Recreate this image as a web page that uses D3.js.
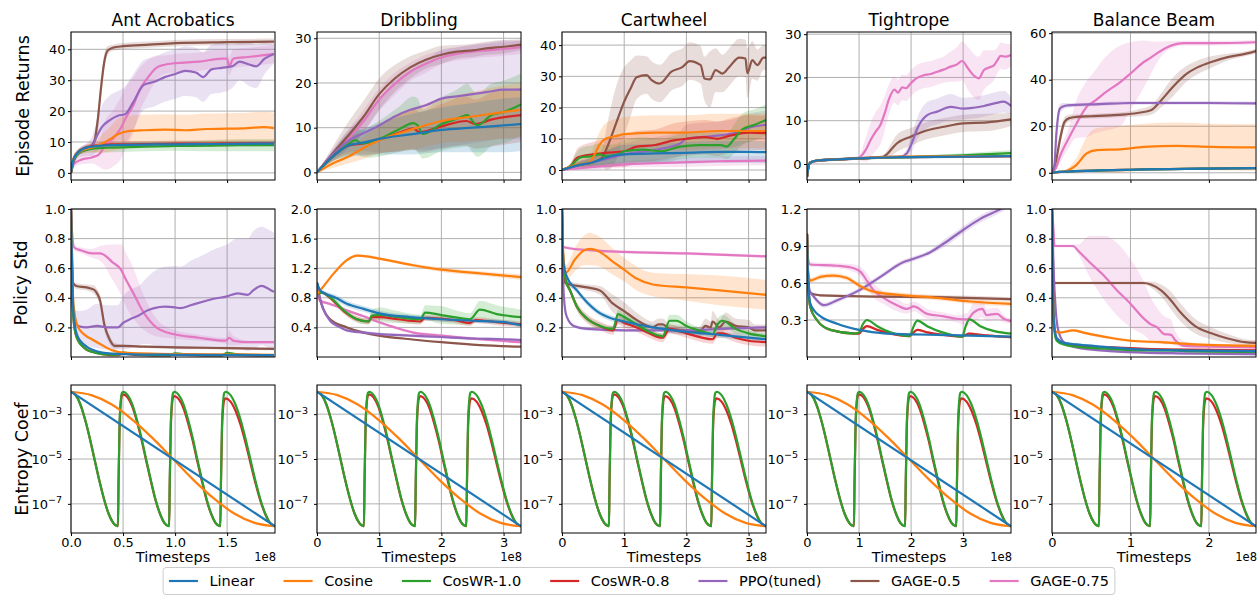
<!DOCTYPE html>
<meta charset="utf-8">
<script src="https://d3js.org/d3.v7.min.js"></script>
<style>
body { margin: 0; background: #fff; }
text { font-family: "DejaVu Sans", sans-serif; fill: #000; }
</style>
<body>
<div id="canvas"></div>
<script>

var tasks = ["Ant Acrobatics", "Dribbling", "Cartwheel", "Tightrope", "Balance Beam"];
var methods = ["Linear", "Cosine", "CosWR-1.0", "CosWR-0.8", "PPO(tuned)", "GAGE-0.5", "GAGE-0.75"];
var colors = ["#1f77b4", "#ff7f0e", "#2ca02c", "#d62728", "#9467bd", "#8c564b", "#e377c2"];
var rowLabels = ["Episode Returns", "Policy Std", "Entropy Coef"];

// timesteps axis (units of 1e8)
var xMax = [1.96, 3.28, 3.28, 3.92, 2.6];
var xTicks = [[0, 0.5, 1, 1.5], [0, 1, 2, 3], [0, 1, 2, 3], [0, 1, 2, 3], [0, 1, 2]];
var xTickLabels = [["0.0", "0.5", "1.0", "1.5"], ["0", "1", "2", "3"], ["0", "1", "2", "3"], ["0", "1", "2", "3"], ["0", "1", "2"]];

var retDomain = [[-2.3, 45.6], [-1.7, 31.4], [-3.2, 44.2], [-3.7, 30.5], [-3.1, 60.5]];
var retTicks = [[0, 10, 20, 30, 40], [0, 10, 20, 30], [0, 10, 20, 30, 40], [0, 10, 20, 30], [0, 20, 40, 60]];
var stdDomain = [[0, 1], [0, 2], [0, 1], [0, 1.2], [0, 1]];
var stdTicks = [[0.2, 0.4, 0.6, 0.8, 1.0], [0.4, 0.8, 1.2, 1.6, 2.0], [0.2, 0.4, 0.6, 0.8, 1.0], [0.3, 0.6, 0.9, 1.2], [0.2, 0.4, 0.6, 0.8, 1.0]];
var entDomainExp = [-8.3, -1.7];
var entTickExp = [-3, -5, -7];

// points: [timesteps (1e8), mean, spread] or [t, mean, spreadDown, spreadUp]
var retAnt = {
  "Linear": [[0,0,0],[0.02,4,1],[0.05,6,1],[0.1,7.5,0.8],[0.2,8.5,0.8],[0.4,9,0.8],[0.8,9.2,0.8],[1.2,9.3,0.8],[1.6,9.4,0.8],[1.95,9.5,0.8]],
  "Cosine": [[0,0,0],[0.02,4,1],[0.05,6,1],[0.1,7.2,1],[0.2,8.2,1.5],[0.3,9.5,3],[0.38,11,4],[0.45,12.5,5],[0.55,13.5,5],[0.7,13.8,5],[0.9,14,5],[1.1,13.8,5],[1.3,14.2,5],[1.5,14.3,5],[1.7,14.5,5],[1.85,14.8,5],[1.95,14.5,5]],
  "CosWR-1.0": [[0,0,0],[0.02,3.5,1],[0.05,5.5,1],[0.1,7,1],[0.2,7.8,1.2],[0.4,8.2,1.5],[0.7,8.5,1.5],[1.0,8.7,1.5],[1.3,8.8,1.8],[1.6,9,2],[1.95,9,2]],
  "CosWR-0.8": [[0,0,0],[0.02,4,1],[0.05,6,1],[0.1,7.5,1],[0.2,8.7,1],[0.4,9.2,1],[0.7,9.3,1],[1.0,9.5,1],[1.3,9.5,1],[1.6,9.6,1],[1.95,9.6,1]],
  "PPO(tuned)": [[0,0,0],[0.03,4,1],[0.08,6.5,1.5],[0.15,7.5,2],[0.2,8.5,3],[0.25,12,5],[0.3,15,7],[0.37,17,8],[0.45,18.5,8],[0.52,19,9],[0.6,23,9],[0.7,28.5,8],[0.8,29.5,8],[0.9,31,8],[1.0,32,8],[1.1,33,8],[1.2,32.5,8],[1.27,31,8],[1.35,33.5,8],[1.45,34,8],[1.55,34.5,7],[1.62,36,6],[1.72,35,7],[1.78,34.5,7],[1.86,37,5],[1.95,38.5,3]],
  "GAGE-0.5": [[0,0,0],[0.03,5,1],[0.1,7,1],[0.2,8.8,1],[0.23,11,2],[0.26,18,3],[0.29,28,3],[0.32,36,2.5],[0.35,39.5,1.5],[0.4,40.5,1],[0.5,41,1],[0.75,41.5,1],[1.0,42,1],[1.5,42.3,1],[1.95,42.5,1]],
  "GAGE-0.75": [[0,0,0],[0.03,3,1],[0.1,4.3,1.5],[0.2,5,2],[0.27,6,4],[0.33,9,8],[0.4,11,9],[0.47,14,10],[0.53,18,10],[0.6,22,9],[0.66,27,7],[0.72,30,6],[0.82,34,4],[0.9,35,3],[1.0,35.5,3],[1.23,36,3],[1.45,37,3],[1.5,37,3],[1.52,34.5,3],[1.56,37,3],[1.7,37.5,3],[1.95,38.5,3]]
};
var retDribbling = {
  "Linear": [[0,0,0],[0.25,3.5,1],[0.5,6,2.5],[0.75,6.7,3],[1.0,7.5,3.5],[1.5,8.5,4.5],[2.0,9.5,5],[2.5,10,5.5],[3.0,10.5,6],[3.28,10.8,6]],
  "Cosine": [[0,0,0],[0.25,2,1],[0.5,3.5,1.5],[0.75,5.5,2.5],[1.0,7.2,3],[1.5,9.5,4.5],[2.0,11.5,5],[2.5,12.5,5.5],[3.0,13.5,6],[3.28,14,6]],
  "CosWR-1.0": [[0,0,0],[0.25,3.5,1],[0.5,6.3,2.5],[0.62,7.2,3],[0.72,6.5,3],[0.85,6.8,3.5],[1.0,7.5,4],[1.3,9.5,5],[1.55,11,6],[1.62,10.5,6],[1.7,8.6,5.5],[2.0,10.8,6],[2.25,12,6.5],[2.42,12.8,7],[2.5,11.5,7],[2.58,10.5,7],[2.8,12.8,7],[3.0,13.5,7],[3.28,15.2,7]],
  "CosWR-0.8": [[0,0,0],[0.25,3.5,1],[0.5,6,2],[0.75,6.5,2.5],[1.0,7.3,3],[1.3,8.8,4],[1.55,9.8,4.5],[1.65,9,4.5],[2.0,10.3,5],[2.4,11.5,5.5],[2.55,10.8,5.5],[2.8,11.8,6],[3.28,12.8,6]],
  "PPO(tuned)": [[0,0,0],[0.25,4,1],[0.5,7,2.5],[0.75,8.8,4],[1.0,10.5,6],[1.25,12.5,8],[1.5,14,9],[1.75,15,10],[2.0,16.5,11],[2.25,17,11],[2.5,17.5,11],[2.75,18,11],[3.0,18.5,11],[3.28,18.5,11]],
  "GAGE-0.5": [[0,0,0],[0.25,4.2,1.5],[0.5,8.2,3],[0.75,12.5,3.5],[1.0,17.5,3.5],[1.25,21,3],[1.5,23.5,2.5],[1.75,25.2,2],[2.0,26.3,2],[2.25,27,1.5],[2.5,27.3,1.5],[2.75,27.8,1.5],[3.0,28.1,1.5],[3.28,28.6,1.2]],
  "GAGE-0.75": [[0,0,0],[0.25,4,1],[0.5,7.5,2],[0.75,11.5,2.5],[1.0,16.3,2.5],[1.25,19.8,2.5],[1.5,22.5,2],[1.75,24.3,2],[2.0,25.7,1.5],[2.25,26.5,1.5],[2.5,27,1.5],[2.75,27.3,1.5],[3.0,27.6,1.5],[3.28,28,1.5]]
};
var retCartwheel = {
  "Linear": [[0,0,0],[0.25,1.5,1],[0.5,2.5,1.5],[0.8,4.5,2.5],[1.0,5,3],[1.5,5.3,3],[2.0,5.5,3.5],[2.5,5.8,3.5],[3.0,5.8,3.5],[3.28,5.7,3.5]],
  "Cosine": [[0,0,0],[0.2,1.5,1],[0.45,2.5,2],[0.5,4,3],[0.6,8,4],[0.7,10,5],[0.9,11,5.5],[1.0,11.5,5.5],[1.5,12,5.5],[2.0,12,5.5],[2.5,12.5,5.5],[3.0,12.5,5.5],[3.28,12.5,5.5]],
  "CosWR-1.0": [[0,0,0],[0.15,1.5,1],[0.2,2.5,2],[0.3,4,3],[0.5,4.5,3.5],[0.6,5,3.5],[0.7,4.5,3.5],[0.9,5,3.5],[1.0,6,3.5],[1.3,6.5,4],[1.6,6,4],[1.9,7.5,4],[2.2,8,4],[2.4,8,4],[2.55,8,4],[2.65,7.5,4],[2.75,9.5,4.5],[2.9,13,5],[3.1,14.5,5],[3.28,16,5]],
  "CosWR-0.8": [[0,0,0],[0.15,1.5,1],[0.2,3,2],[0.25,4,3],[0.5,5,4],[0.7,5.5,4.5],[1.0,6,5],[1.2,7.5,5],[1.5,8,5],[1.8,9.5,5.5],[2.0,10,5.5],[2.3,10.5,5.5],[2.5,10,5.5],[2.7,11,5.5],[3.0,12,5.5],[3.28,11.8,5.5]],
  "PPO(tuned)": [[0,0,0],[0.25,1.5,1],[0.5,2.5,2],[0.8,4,3],[1.0,5,3.5],[1.5,6.5,4],[1.9,8.5,4],[2.0,10,4.5],[2.5,11,4.5],[2.8,12,4.5],[3.0,13.5,4.5],[3.28,14.5,4.5]],
  "GAGE-0.5": [[0,0,0],[0.25,1.5,1],[0.5,2.5,1.5],[0.65,4,3],[0.72,7,7],[0.88,15.5,12],[1.0,21.9,11],[1.1,26,9],[1.2,29.7,7],[1.36,30.4,6],[1.44,28.8,6],[1.57,27.7,6],[1.76,31.5,6],[1.94,33,6],[2.05,34.9,6],[2.23,33.6,6],[2.29,29.3,7],[2.38,29,9],[2.47,32,7],[2.58,30.9,6],[2.69,33,6],[2.85,36,6],[2.95,35.7,6],[2.98,31,8],[3.06,35.2,6],[3.14,33.6,5],[3.24,36,4],[3.28,36,4]],
  "GAGE-0.75": [[0,0,0],[0.5,1,0.8],[1.0,1.8,1],[1.5,2.2,1.2],[2.0,2.5,1.5],[2.5,2.8,1.5],[3.28,3,1.5]]
};
var retTightrope = {
  "Linear": [[0,-3,0.5],[0.03,-0.5,0.5],[0.06,0.3,0.3],[0.2,0.8,0.3],[0.5,1.0,0.3],[1.0,1.3,0.3],[1.5,1.5,0.3],[2.0,1.6,0.3],[3.0,1.7,0.3],[3.92,1.8,0.3]],
  "Cosine": [[0,-3,0.5],[0.03,-0.5,0.5],[0.06,0.3,0.3],[0.2,0.8,0.3],[0.5,1.0,0.3],[1.0,1.3,0.3],[1.5,1.6,0.3],[2.0,1.7,0.3],[3.0,1.8,0.3],[3.92,1.8,0.3]],
  "CosWR-1.0": [[0,-3,0.5],[0.03,-0.5,0.5],[0.06,0.3,0.3],[0.2,0.8,0.3],[0.5,1.0,0.3],[1.0,1.3,0.3],[1.5,1.5,0.3],[2.0,1.6,0.3],[2.5,1.8,0.4],[3.0,2.0,0.5],[3.5,2.3,0.6],[3.92,2.5,0.7]],
  "CosWR-0.8": [[0,-3,0.5],[0.03,-0.5,0.5],[0.06,0.3,0.3],[0.2,0.8,0.3],[0.5,1.0,0.3],[1.0,1.3,0.3],[1.5,1.5,0.3],[2.0,1.6,0.3],[3.0,1.7,0.3],[3.92,1.8,0.3]],
  "PPO(tuned)": [[0,-3,0.5],[0.03,-0.5,0.5],[0.06,0.3,0.3],[0.2,0.8,0.3],[0.5,1.0,0.3],[1.0,1.3,0.3],[1.5,1.6,0.3],[1.8,1.7,0.3],[1.92,2.5,1],[2.02,5,2],[2.12,8.2,2.5],[2.31,11.3,3],[2.5,12.1,3],[2.76,13.2,3],[3.01,12.8,2.5],[3.2,13,2.5],[3.4,13.4,2.5],[3.6,14,2.5],[3.78,14.4,2.5],[3.92,13.4,2]],
  "GAGE-0.5": [[0,-3,0.5],[0.03,-0.5,0.5],[0.06,0.3,0.3],[0.2,0.8,0.3],[0.5,1.0,0.3],[1.0,1.3,0.3],[1.45,1.6,0.4],[1.54,2.3,0.8],[1.63,3.5,1.5],[1.73,4.8,2],[1.99,6.3,2],[2.24,7.5,2],[2.63,8.6,2],[3.01,9.4,2],[3.46,9.6,2],[3.92,10.3,1.5]],
  "GAGE-0.75": [[0,-3,0.5],[0.03,-0.5,0.5],[0.06,0.3,0.3],[0.2,0.7,0.3],[0.5,1.0,0.3],[1.0,1.4,0.5],[1.06,2.1,1.5],[1.14,3.5,3],[1.22,5.5,4],[1.32,7.5,4.5],[1.41,9,4.5],[1.5,12,4],[1.57,14.8,3.5],[1.68,17.2,3],[1.75,16.5,3],[1.83,17.7,3],[1.9,17.5,3],[1.99,18.6,3],[2.1,19.8,3],[2.24,20.5,3],[2.38,20.8,3],[2.5,21.3,3],[2.62,21.8,3],[2.76,22.5,3.5],[2.88,23,4],[2.98,23.8,4.5],[3.1,22,5],[3.2,20.5,5],[3.3,19.8,5],[3.4,21.7,4.5],[3.5,22.3,4],[3.59,22.8,3.5],[3.66,24,3],[3.72,25,3],[3.81,24.8,3],[3.92,25.2,2.5]]
};
var retBalance = {
  "Linear": [[0,0,0],[0.1,0.4,0.2],[0.3,0.7,0.2],[0.6,1.0,0.3],[1.0,1.3,0.3],[1.5,1.6,0.3],[2.0,1.8,0.3],[2.6,2,0.3]],
  "Cosine": [[0,0,0],[0.1,0.3,0.2],[0.2,1,1],[0.31,3.3,3],[0.44,8.3,7],[0.57,9.7,9.5],[0.87,10.1,10],[1.17,11.1,10],[1.6,11.6,10],[2.03,11.1,10],[2.59,10.9,10]],
  "CosWR-1.0": [[0,0,0],[0.1,0.4,0.2],[0.3,0.7,0.2],[0.6,1.0,0.3],[1.0,1.3,0.3],[1.5,1.6,0.3],[2.0,1.8,0.3],[2.6,2,0.3]],
  "CosWR-0.8": [[0,0,0],[0.1,0.4,0.2],[0.3,0.7,0.2],[0.6,1.0,0.3],[1.0,1.3,0.3],[1.5,1.6,0.3],[2.0,1.8,0.3],[2.6,2,0.3]],
  "PPO(tuned)": [[0,0,0],[0.03,3,2],[0.056,16.9,4],[0.1,27.6,2],[0.14,28.5,1.5],[0.2,29,1],[0.6,29.5,0.8],[1.0,30,0.8],[1.5,30,0.8],[2.0,30,0.8],[2.6,29.8,0.8]],
  "GAGE-0.5": [[0,0,0],[0.05,5,2],[0.1,14,3],[0.16,21.9,2],[0.22,23.5,1.5],[0.31,24,1],[0.5,24.3,1],[0.74,24.7,1],[0.9,25,1],[1.09,25.7,1.5],[1.26,26.9,2],[1.39,31.1,3],[1.52,36.1,4],[1.6,39,4],[1.69,41.9,3.5],[1.86,45.4,3],[2.03,47.6,2.5],[2.24,49.7,1.5],[2.46,51.1,1],[2.6,52.3,1]],
  "GAGE-0.75": [[0,0,0],[0.05,2,1],[0.1,7,3],[0.2,14,4],[0.31,21,6,10],[0.44,28.3,13,11],[0.55,31,14,13],[0.66,34,16,15],[0.87,39,19,15.7],[1.0,42.6,15.6,13.5],[1.17,47.6,11,9.3],[1.26,49.5,7,7],[1.34,51.4,4,5],[1.47,54,1.5,2.5],[1.69,55.7,1,1],[2.03,55.7,1,1],[2.59,56.1,1,1]]
};

var stdAnt = {
  "Linear": [[0,1,0],[0.01,0.6,0.02],[0.02,0.35,0.02],[0.04,0.2,0.01],[0.07,0.13,0.01],[0.1,0.1,0.01],[0.15,0.07,0.01],[0.2,0.05,0.01],[0.3,0.03,0.005],[0.5,0.02,0.005],[1.0,0.015,0.005],[1.95,0.012,0.005]],
  "Cosine": [[0,1,0],[0.01,0.6,0.02],[0.02,0.4,0.02],[0.04,0.27,0.02],[0.07,0.2,0.01],[0.1,0.17,0.01],[0.15,0.14,0.01],[0.2,0.12,0.01],[0.25,0.1,0.01],[0.3,0.08,0.01],[0.35,0.06,0.01],[0.42,0.04,0.01],[0.5,0.03,0.005],[1.0,0.02,0.005],[1.95,0.015,0.005]],
  "CosWR-1.0": [[0,1,0],[0.01,0.55,0.02],[0.02,0.3,0.02],[0.04,0.17,0.01],[0.07,0.11,0.01],[0.1,0.08,0.01],[0.15,0.05,0.01],[0.2,0.035,0.005],[0.3,0.02,0.005],[0.45,0.015,0.005],[0.5,0.03,0.01],[0.6,0.02,0.005],[0.95,0.012,0.005],[1.0,0.025,0.01],[1.1,0.018,0.005],[1.45,0.012,0.005],[1.5,0.028,0.01],[1.6,0.018,0.005],[1.95,0.012,0.005]],
  "CosWR-0.8": [[0,1,0],[0.01,0.55,0.02],[0.02,0.3,0.02],[0.04,0.17,0.01],[0.07,0.11,0.01],[0.1,0.08,0.01],[0.15,0.05,0.01],[0.2,0.035,0.005],[0.3,0.02,0.005],[0.45,0.012,0.005],[0.5,0.022,0.008],[0.6,0.015,0.005],[0.95,0.01,0.005],[1.0,0.02,0.008],[1.1,0.014,0.005],[1.45,0.01,0.005],[1.5,0.02,0.008],[1.6,0.014,0.005],[1.95,0.01,0.005]],
  "PPO(tuned)": [[0,1,0],[0.01,0.55,0.1],[0.02,0.33,0.1],[0.04,0.24,0.08],[0.07,0.21,0.1],[0.15,0.2,0.12],[0.25,0.21,0.15],[0.35,0.2,0.15],[0.45,0.2,0.15],[0.5,0.23,0.18],[0.58,0.26,0.2],[0.65,0.28,0.2],[0.72,0.31,0.22],[0.8,0.33,0.25],[0.9,0.34,0.27],[1.0,0.335,0.28],[1.05,0.33,0.28],[1.15,0.35,0.3],[1.3,0.38,0.32],[1.35,0.39,0.33],[1.5,0.41,0.35],[1.6,0.43,0.37],[1.7,0.42,0.38],[1.75,0.45,0.4],[1.83,0.48,0.4],[1.9,0.46,0.4],[1.95,0.44,0.4]],
  "GAGE-0.5": [[0,1,0],[0.01,0.7,0.02],[0.02,0.5,0.02],[0.05,0.48,0.02],[0.15,0.47,0.02],[0.22,0.455,0.03],[0.25,0.43,0.03],[0.28,0.38,0.04],[0.32,0.22,0.04],[0.37,0.12,0.03],[0.42,0.075,0.02],[0.5,0.075,0.01],[0.7,0.07,0.01],[1.0,0.065,0.01],[1.5,0.06,0.01],[1.95,0.055,0.01]],
  "GAGE-0.75": [[0,1,0],[0.01,0.85,0.02],[0.03,0.74,0.02],[0.1,0.72,0.02],[0.2,0.7,0.03],[0.28,0.7,0.05],[0.4,0.64,0.12],[0.48,0.59,0.17],[0.53,0.52,0.18],[0.6,0.43,0.17],[0.69,0.31,0.12],[0.82,0.2,0.06],[0.98,0.155,0.03],[1.23,0.13,0.02],[1.49,0.11,0.02],[1.52,0.13,0.05],[1.56,0.11,0.03],[1.7,0.1,0.01],[1.95,0.1,0.01]]
};
var stdDribbling = {
  "Linear": [[0,1.01,0.01],[0.05,0.9,0.02],[0.1,0.87,0.03],[0.3,0.8,0.04],[0.48,0.72,0.04],[0.75,0.65,0.04],[1.0,0.59,0.04],[1.5,0.54,0.03],[2.0,0.51,0.03],[2.5,0.49,0.03],[3.0,0.47,0.03],[3.28,0.43,0.03]],
  "Cosine": [[0,0.85,0.02],[0.1,0.95,0.02],[0.27,1.13,0.02],[0.48,1.31,0.02],[0.65,1.37,0.02],[0.8,1.36,0.02],[1.0,1.33,0.02],[1.55,1.24,0.02],[2.0,1.18,0.03],[2.62,1.13,0.03],[3.28,1.08,0.04]],
  "CosWR-1.0": [[0,0.85,0.02],[0.08,0.87,0.02],[0.21,0.81,0.03],[0.43,0.63,0.04],[0.64,0.51,0.04],[0.83,0.48,0.04],[0.88,0.56,0.08],[1.02,0.57,0.1],[1.3,0.54,0.08],[1.66,0.51,0.06],[1.74,0.6,0.1],[1.98,0.57,0.12],[2.2,0.54,0.1],[2.46,0.51,0.08],[2.62,0.64,0.12],[2.89,0.58,0.12],[3.28,0.54,0.1]],
  "CosWR-0.8": [[0,0.85,0.02],[0.08,0.87,0.02],[0.21,0.8,0.03],[0.43,0.62,0.04],[0.64,0.51,0.04],[0.83,0.48,0.04],[0.88,0.54,0.04],[1.02,0.54,0.04],[1.3,0.51,0.04],[1.66,0.48,0.04],[1.74,0.53,0.04],[1.98,0.52,0.04],[2.2,0.5,0.04],[2.46,0.46,0.04],[2.55,0.5,0.04],[2.89,0.47,0.04],[3.28,0.44,0.04]],
  "PPO(tuned)": [[0,1.0,0],[0.05,0.78,0.03],[0.1,0.65,0.03],[0.21,0.49,0.03],[0.35,0.41,0.02],[0.48,0.36,0.02],[0.75,0.33,0.02],[1.0,0.31,0.02],[1.5,0.29,0.02],[2.0,0.27,0.02],[2.5,0.25,0.02],[3.0,0.24,0.02],[3.28,0.23,0.02]],
  "GAGE-0.5": [[0,1.0,0],[0.05,0.78,0.02],[0.1,0.65,0.02],[0.21,0.51,0.02],[0.48,0.4,0.02],[0.75,0.33,0.02],[1.0,0.29,0.02],[1.5,0.24,0.01],[2.0,0.2,0.01],[2.62,0.16,0.01],[3.28,0.14,0.01]],
  "GAGE-0.75": [[0,0.85,0.02],[0.05,0.76,0.02],[0.2,0.72,0.02],[0.48,0.63,0.02],[0.75,0.55,0.02],[1.0,0.47,0.02],[1.25,0.4,0.02],[1.55,0.33,0.02],[2.0,0.29,0.02],[2.62,0.24,0.02],[3.28,0.2,0.02]]
};
var stdCartwheel = {
  "Linear": [[0,1.0,0],[0.02,0.65,0.02],[0.08,0.54,0.02],[0.24,0.45,0.02],[0.4,0.37,0.02],[0.56,0.31,0.02],[0.8,0.26,0.02],[1.0,0.24,0.02],[1.46,0.2,0.02],[2.0,0.17,0.02],[2.53,0.15,0.02],[3.28,0.12,0.02]],
  "Cosine": [[0,1.0,0],[0.02,0.7,0.05],[0.06,0.57,0.05],[0.21,0.66,0.08],[0.35,0.72,0.1],[0.45,0.73,0.11],[0.61,0.71,0.1],[0.8,0.65,0.09],[1.0,0.59,0.08],[1.2,0.53,0.08],[1.46,0.49,0.08],[2.0,0.47,0.09],[2.53,0.45,0.1],[3.28,0.42,0.1]],
  "CosWR-1.0": [[0,1.0,0],[0.02,0.65,0.02],[0.06,0.52,0.02],[0.13,0.45,0.02],[0.24,0.34,0.02],[0.4,0.26,0.02],[0.61,0.21,0.02],[0.82,0.19,0.02],[0.9,0.29,0.03],[1.0,0.27,0.03],[1.2,0.22,0.02],[1.4,0.17,0.02],[1.62,0.14,0.02],[1.73,0.245,0.04],[1.84,0.245,0.04],[2.0,0.21,0.03],[2.2,0.18,0.02],[2.42,0.155,0.02],[2.5,0.22,0.04],[2.58,0.245,0.04],[2.79,0.19,0.03],[3.0,0.16,0.02],[3.28,0.14,0.02]],
  "CosWR-0.8": [[0,1.0,0],[0.02,0.65,0.02],[0.06,0.52,0.02],[0.13,0.45,0.02],[0.24,0.34,0.03],[0.4,0.26,0.03],[0.61,0.21,0.03],[0.82,0.18,0.03],[0.9,0.25,0.03],[1.0,0.23,0.03],[1.2,0.2,0.03],[1.4,0.16,0.03],[1.62,0.13,0.03],[1.73,0.19,0.03],[1.84,0.18,0.03],[2.0,0.16,0.03],[2.42,0.12,0.03],[2.5,0.16,0.03],[2.58,0.16,0.03],[2.79,0.13,0.03],[3.0,0.11,0.03],[3.28,0.1,0.03]],
  "PPO(tuned)": [[0,1.0,0],[0.02,0.5,0.01],[0.05,0.32,0.01],[0.08,0.27,0.01],[0.19,0.21,0.01],[0.4,0.19,0.01],[1.0,0.18,0.01],[2.0,0.18,0.01],[2.53,0.19,0.01],[3.28,0.2,0.01]],
  "GAGE-0.5": [[0,1.0,0],[0.02,0.6,0.02],[0.05,0.5,0.02],[0.4,0.47,0.02],[0.61,0.45,0.03],[0.82,0.36,0.06],[1.0,0.31,0.06],[1.2,0.25,0.05],[1.46,0.2,0.04],[1.55,0.22,0.04],[1.62,0.22,0.04],[1.73,0.19,0.03],[2.0,0.18,0.03],[2.2,0.17,0.03],[2.31,0.21,0.05],[2.39,0.2,0.04],[2.42,0.24,0.07],[2.53,0.2,0.05],[2.63,0.24,0.06],[2.79,0.21,0.05],[3.0,0.2,0.05],[3.1,0.18,0.04],[3.28,0.18,0.04]],
  "GAGE-0.75": [[0,0.75,0.01],[0.05,0.74,0.01],[0.5,0.72,0.01],[1.0,0.71,0.01],[2.0,0.7,0.01],[3.28,0.68,0.01]]
};
var stdTightrope = {
  "Linear": [[0,1.0,0],[0.02,0.65,0.01],[0.06,0.44,0.01],[0.15,0.37,0.01],[0.26,0.33,0.01],[0.58,0.27,0.01],[1.0,0.22,0.01],[1.54,0.19,0.01],[2.5,0.18,0.01],[3.92,0.165,0.01]],
  "Cosine": [[0,1.0,0],[0.02,0.7,0.02],[0.06,0.62,0.02],[0.26,0.65,0.02],[0.51,0.66,0.02],[0.77,0.64,0.02],[1.0,0.58,0.02],[1.28,0.53,0.02],[1.86,0.5,0.02],[2.5,0.48,0.02],[3.14,0.45,0.02],[3.92,0.43,0.02]],
  "CosWR-1.0": [[0,1.0,0],[0.02,0.65,0.01],[0.06,0.41,0.01],[0.19,0.3,0.01],[0.45,0.22,0.01],[0.93,0.19,0.01],[1.0,0.2,0.01],[1.08,0.27,0.01],[1.15,0.3,0.01],[1.35,0.25,0.01],[1.6,0.2,0.01],[1.97,0.17,0.01],[2.05,0.25,0.01],[2.12,0.295,0.01],[2.31,0.25,0.01],[2.6,0.2,0.01],[2.98,0.165,0.01],[3.05,0.25,0.01],[3.12,0.305,0.01],[3.33,0.25,0.01],[3.6,0.21,0.01],[3.92,0.19,0.01]],
  "CosWR-0.8": [[0,1.0,0],[0.02,0.65,0.01],[0.06,0.41,0.01],[0.19,0.3,0.01],[0.45,0.22,0.01],[0.93,0.19,0.01],[1.0,0.19,0.01],[1.08,0.23,0.01],[1.15,0.25,0.01],[1.35,0.22,0.01],[1.6,0.19,0.01],[1.97,0.17,0.01],[2.05,0.2,0.01],[2.12,0.22,0.01],[2.31,0.2,0.01],[2.6,0.18,0.01],[2.98,0.165,0.01],[3.05,0.18,0.01],[3.12,0.19,0.01],[3.33,0.18,0.01],[3.6,0.17,0.01],[3.92,0.16,0.01]],
  "PPO(tuned)": [[0,1.0,0],[0.03,0.6,0.02],[0.05,0.54,0.02],[0.13,0.49,0.02],[0.32,0.42,0.02],[0.58,0.46,0.02],[1.0,0.54,0.02],[1.41,0.65,0.02],[1.86,0.77,0.02],[2.0,0.79,0.02],[2.37,0.85,0.02],[2.63,0.92,0.03],[3.0,1.03,0.03],[3.33,1.12,0.03],[3.72,1.2,0.03],[3.92,1.25,0.03]],
  "GAGE-0.5": [[0,1.0,0],[0.02,0.6,0.01],[0.05,0.52,0.01],[0.26,0.5,0.01],[1.28,0.49,0.01],[2.5,0.485,0.015],[3.92,0.47,0.015]],
  "GAGE-0.75": [[0,1.0,0],[0.02,0.8,0.02],[0.06,0.75,0.02],[0.58,0.74,0.02],[0.9,0.72,0.03],[1.03,0.69,0.04],[1.15,0.62,0.06],[1.28,0.54,0.06],[1.47,0.48,0.05],[1.73,0.42,0.05],[1.92,0.39,0.04],[2.05,0.41,0.04],[2.31,0.35,0.04],[2.63,0.33,0.03],[2.88,0.31,0.03],[3.08,0.305,0.05],[3.2,0.36,0.08],[3.37,0.39,0.07],[3.45,0.34,0.05],[3.65,0.35,0.05],[3.78,0.31,0.03],[3.92,0.29,0.02]]
};
var stdBalance = {
  "Linear": [[0,1.0,0],[0.01,0.5,0.01],[0.03,0.2,0.01],[0.06,0.13,0.01],[0.15,0.095,0.01],[0.31,0.085,0.01],[0.74,0.065,0.01],[1.17,0.05,0.01],[1.6,0.045,0.01],[2.6,0.04,0.01]],
  "Cosine": [[0,1.0,0],[0.02,0.3,0.01],[0.05,0.17,0.01],[0.1,0.165,0.01],[0.27,0.18,0.01],[0.4,0.165,0.01],[0.74,0.13,0.01],[1.0,0.11,0.01],[1.39,0.1,0.01],[1.82,0.085,0.01],[2.6,0.075,0.01]],
  "CosWR-1.0": [[0,1.0,0],[0.01,0.45,0.01],[0.03,0.18,0.01],[0.06,0.11,0.01],[0.15,0.085,0.01],[0.31,0.07,0.01],[0.74,0.055,0.01],[1.17,0.045,0.01],[1.5,0.045,0.01],[1.7,0.04,0.01],[2.6,0.035,0.01]],
  "CosWR-0.8": [[0,1.0,0],[0.01,0.5,0.01],[0.03,0.2,0.01],[0.06,0.12,0.01],[0.15,0.09,0.01],[0.31,0.075,0.01],[0.74,0.065,0.01],[1.17,0.055,0.01],[1.6,0.05,0.01],[2.6,0.045,0.01]],
  "PPO(tuned)": [[0,1.0,0],[0.02,0.6,0.01],[0.05,0.3,0.01],[0.08,0.18,0.01],[0.15,0.1,0.01],[0.31,0.065,0.01],[0.74,0.04,0.01],[1.17,0.03,0.01],[1.6,0.025,0.01],[2.6,0.02,0.01]],
  "GAGE-0.5": [[0,1.0,0],[0.01,0.7,0.01],[0.03,0.5,0.01],[1.17,0.5,0.01],[1.26,0.49,0.02],[1.39,0.45,0.04],[1.52,0.38,0.06],[1.64,0.3,0.06],[1.82,0.21,0.05],[2.03,0.16,0.04],[2.24,0.125,0.03],[2.46,0.1,0.02],[2.6,0.095,0.02]],
  "GAGE-0.75": [[0,1.0,0],[0.02,0.85,0.01],[0.03,0.75,0.01],[0.27,0.75,0.01],[0.33,0.72,0.02,0.04],[0.48,0.64,0.1,0.18],[0.66,0.55,0.16,0.27],[0.83,0.45,0.17,0.32],[1.0,0.36,0.16,0.3],[1.17,0.26,0.11,0.25],[1.26,0.22,0.11,0.18],[1.34,0.2,0.09,0.13],[1.43,0.155,0.07,0.12],[1.52,0.15,0.06,0.1],[1.56,0.12,0.04,0.07],[1.69,0.075,0.01,0.03],[2.03,0.07,0.01],[2.6,0.065,0.01]]
};

// entropy schedules: [fraction of run, log10 coefficient]
var entLinear = [[0,-2],[1,-8]];
var entCosine = [[0,-2],[0.1,-2.15],[0.2,-2.57],[0.3,-3.24],[0.4,-4.07],[0.5,-5],[0.6,-5.93],[0.7,-6.76],[0.8,-7.43],[0.9,-7.85],[1,-8]];
var entCosWR10 = [[0,-2],[0.023,-2.15],[0.046,-2.57],[0.069,-3.24],[0.092,-4.07],[0.115,-5],[0.138,-5.93],[0.161,-6.76],[0.184,-7.43],[0.207,-7.85],[0.23,-8],
  [0.233,-6],[0.238,-3.5],[0.244,-2.4],[0.25,-2.05],[0.256,-2],
  [0.278,-2.15],[0.301,-2.57],[0.323,-3.24],[0.346,-4.07],[0.368,-5],[0.391,-5.93],[0.413,-6.76],[0.436,-7.43],[0.458,-7.85],[0.481,-8],
  [0.484,-6],[0.489,-3.5],[0.495,-2.4],[0.501,-2.05],[0.507,-2],
  [0.529,-2.15],[0.552,-2.57],[0.574,-3.24],[0.597,-4.07],[0.619,-5],[0.642,-5.93],[0.664,-6.76],[0.687,-7.43],[0.709,-7.85],[0.732,-8],
  [0.735,-6],[0.74,-3.5],[0.746,-2.4],[0.752,-2.05],[0.758,-2],
  [0.782,-2.15],[0.806,-2.57],[0.831,-3.24],[0.855,-4.07],[0.879,-5],[0.903,-5.93],[0.927,-6.76],[0.952,-7.43],[0.976,-7.85],[1,-8]];
var entCosWR08 = [[0,-2],[0.023,-2.15],[0.046,-2.57],[0.069,-3.24],[0.092,-4.07],[0.115,-5],[0.138,-5.93],[0.161,-6.76],[0.184,-7.43],[0.207,-7.85],[0.23,-8],
  [0.233,-6.1],[0.238,-3.6],[0.244,-2.5],[0.25,-2.17],[0.256,-2.12],
  [0.278,-2.26],[0.301,-2.68],[0.323,-3.33],[0.346,-4.15],[0.368,-5.06],[0.391,-5.97],[0.413,-6.79],[0.436,-7.44],[0.458,-7.86],[0.481,-8],
  [0.484,-6.15],[0.489,-3.7],[0.495,-2.6],[0.501,-2.25],[0.507,-2.2],
  [0.529,-2.34],[0.552,-2.75],[0.574,-3.4],[0.597,-4.2],[0.619,-5.1],[0.642,-6],[0.664,-6.81],[0.687,-7.45],[0.709,-7.86],[0.732,-8],
  [0.735,-6.2],[0.74,-3.8],[0.746,-2.7],[0.752,-2.36],[0.758,-2.3],
  [0.782,-2.44],[0.806,-2.84],[0.831,-3.47],[0.855,-4.26],[0.879,-5.15],[0.903,-6.03],[0.927,-6.82],[0.952,-7.45],[0.976,-7.86],[1,-8]];

var retData = [retAnt, retDribbling, retCartwheel, retTightrope, retBalance];
var stdData = [stdAnt, stdDribbling, stdCartwheel, stdTightrope, stdBalance];
var entData = { "Linear": entLinear, "Cosine": entCosine, "CosWR-1.0": entCosWR10, "CosWR-0.8": entCosWR08 };

// layout
var W = 1257, H = 595;
var colX = [71, 317, 562, 807, 1052], pw = 204;
var rowY = [32, 209, 385], ph = 148;
var yLabelX = [29, 26.5, 27.5];

var svg = d3.select("#canvas").append("svg")
  .attr("width", W).attr("height", H);

// draw order is reversed so Linear ends up on top
var drawOrder = methods.slice().reverse();

function panel(row, col) {
  var x0 = colX[col], y0 = rowY[row];
  var g = svg.append("g").attr("transform", "translate(" + x0 + "," + y0 + ")");
  var x = d3.scaleLinear().domain([0, xMax[col]]).range([0, pw]);
  var y, ticks;
  if (row == 0) { y = d3.scaleLinear().domain(retDomain[col]).range([ph, 0]); ticks = retTicks[col]; }
  else if (row == 1) { y = d3.scaleLinear().domain(stdDomain[col]).range([ph, 0]); ticks = stdTicks[col]; }
  else { y = d3.scaleLog().domain([Math.pow(10, entDomainExp[0]), Math.pow(10, entDomainExp[1])]).range([ph, 0]); ticks = entTickExp.map(function(e) { return Math.pow(10, e); }); }

  var clipId = "clip" + row + "_" + col;
  g.append("clipPath").attr("id", clipId).append("rect").attr("width", pw).attr("height", ph);

  // grid
  g.selectAll(".gx").data(xTicks[col]).enter().append("line")
    .attr("x1", function(d) { return x(d); }).attr("x2", function(d) { return x(d); })
    .attr("y1", 0).attr("y2", ph).attr("stroke", "#b0b0b0").attr("stroke-width", 1);
  g.selectAll(".gy").data(ticks).enter().append("line")
    .attr("y1", function(d) { return y(d); }).attr("y2", function(d) { return y(d); })
    .attr("x1", 0).attr("x2", pw).attr("stroke", "#b0b0b0").attr("stroke-width", 1);

  var plot = g.append("g").attr("clip-path", "url(#" + clipId + ")");

  if (row < 2) {
    var data = row == 0 ? retData[col] : stdData[col];
    var area = d3.area()
      .x(function(d) { return x(d[0]); })
      .y0(function(d) { return y(d[1] - d[2]); })
      .y1(function(d) { return y(d[1] + (d.length > 3 ? d[3] : d[2])); })
      .curve(d3.curveMonotoneX);
    drawOrder.forEach(function(m) {
      plot.append("path").attr("d", area(data[m]))
        .attr("fill", colors[methods.indexOf(m)]).attr("fill-opacity", 0.2).attr("stroke", "none");
    });
    var line = d3.line().x(function(d) { return x(d[0]); }).y(function(d) { return y(d[1]); }).curve(d3.curveMonotoneX);
    drawOrder.forEach(function(m) {
      plot.append("path").attr("d", line(data[m]))
        .attr("fill", "none").attr("stroke", colors[methods.indexOf(m)]).attr("stroke-width", 2.2)
        .attr("stroke-linejoin", "round");
    });
  } else {
    var eline = d3.line()
      .x(function(d) { return x(d[0] * xMax[col]); })
      .y(function(d) { return y(Math.pow(10, d[1])); })
      .curve(d3.curveMonotoneX);
    drawOrder.forEach(function(m) {
      if (!entData[m]) return;
      plot.append("path").attr("d", eline(entData[m]))
        .attr("fill", "none").attr("stroke", colors[methods.indexOf(m)]).attr("stroke-width", 2.2)
        .attr("stroke-linejoin", "round");
    });
  }

  // spines
  g.append("rect").attr("width", pw).attr("height", ph)
    .attr("fill", "none").attr("stroke", "#000").attr("stroke-width", 1);

  // y axis
  var ya = d3.axisLeft(y).tickValues(ticks).tickSize(3).tickPadding(2.5);
  if (row == 0) ya.tickFormat(d3.format("d"));
  else if (row == 1) ya.tickFormat(d3.format(".1f"));
  else ya.tickFormat("");
  var yg = g.append("g").call(ya);
  yg.select(".domain").remove();
  yg.selectAll("text").attr("font-size", 13).style("font-family", "DejaVu Sans");
  if (row == 2) {
    yg.selectAll(".tick").each(function(d) {
      var t = d3.select(this).append("text")
        .attr("x", -9).attr("dy", "0.32em").attr("text-anchor", "end")
        .attr("font-size", 13).attr("fill", "#000");
      t.append("tspan").text("10");
      t.append("tspan").attr("dy", "-0.55em").attr("font-size", 9.5).text("\u2212" + Math.round(-Math.log10(d)));
    });
  }

  // x axis
  var xa = d3.axisBottom(x).tickValues(xTicks[col]).tickSize(3).tickPadding(2);
  if (row == 2) xa.tickFormat(function(d, i) { return xTickLabels[col][i]; });
  else xa.tickFormat("");
  var xg = g.append("g").attr("transform", "translate(0," + ph + ")").call(xa);
  xg.select(".domain").remove();
  xg.selectAll("text").attr("font-size", 13).style("font-family", "DejaVu Sans");

  if (row == 0) {
    g.append("text").attr("x", pw / 2).attr("y", -6.5).attr("text-anchor", "middle")
      .attr("font-size", 17).text(tasks[col]);
  }
  if (row == 2) {
    g.append("text").attr("x", pw / 2).attr("y", 561.5 - y0).attr("text-anchor", "middle")
      .attr("font-size", 14.5).text("Timesteps");
    g.append("text").attr("x", pw + 1).attr("y", 560.5 - y0).attr("text-anchor", "end")
      .attr("font-size", 11.5).text("1e8");
  }
}

for (var r = 0; r < 3; r++) {
  for (var c = 0; c < 5; c++) panel(r, c);
  svg.append("text")
    .attr("transform", "translate(" + yLabelX[r] + "," + (rowY[r] + ph / 2) + ") rotate(-90)")
    .attr("text-anchor", "middle").attr("font-size", 17.5).text(rowLabels[r]);
}

// legend ---------------------------------------------------
var fs = 14.5, handleLen = 2 * fs, handlePad = 0.8 * fs, colSpace = 2 * fs, borderPad = 0.4 * fs;
var legend = svg.append("g");
var box = legend.append("rect");
var items = legend.selectAll(".item").data(methods).enter().append("g");
var texts = items.append("text").attr("font-size", fs).attr("dy", "0.35em").text(function(d) { return d; });
var widths = [];
texts.each(function() { widths.push(this.getComputedTextLength()); });
var total = 2 * borderPad + d3.sum(widths) + methods.length * (handleLen + handlePad) + (methods.length - 1) * colSpace;
var lx = 639 - total / 2, ly = 581;
var cx = lx + borderPad;
items.each(function(d, i) {
  var it = d3.select(this);
  it.append("line").attr("x1", cx).attr("x2", cx + handleLen).attr("y1", ly).attr("y2", ly)
    .attr("stroke", colors[i]).attr("stroke-width", 2.2);
  it.select("text").attr("x", cx + handleLen + handlePad).attr("y", ly);
  cx += handleLen + handlePad + widths[i] + colSpace;
});
box.attr("x", lx).attr("y", 567.5).attr("width", total).attr("height", 27)
  .attr("rx", 3).attr("fill", "#fff").attr("fill-opacity", 0.8).attr("stroke", "#cccccc").attr("stroke-width", 1);

</script>
</body>
